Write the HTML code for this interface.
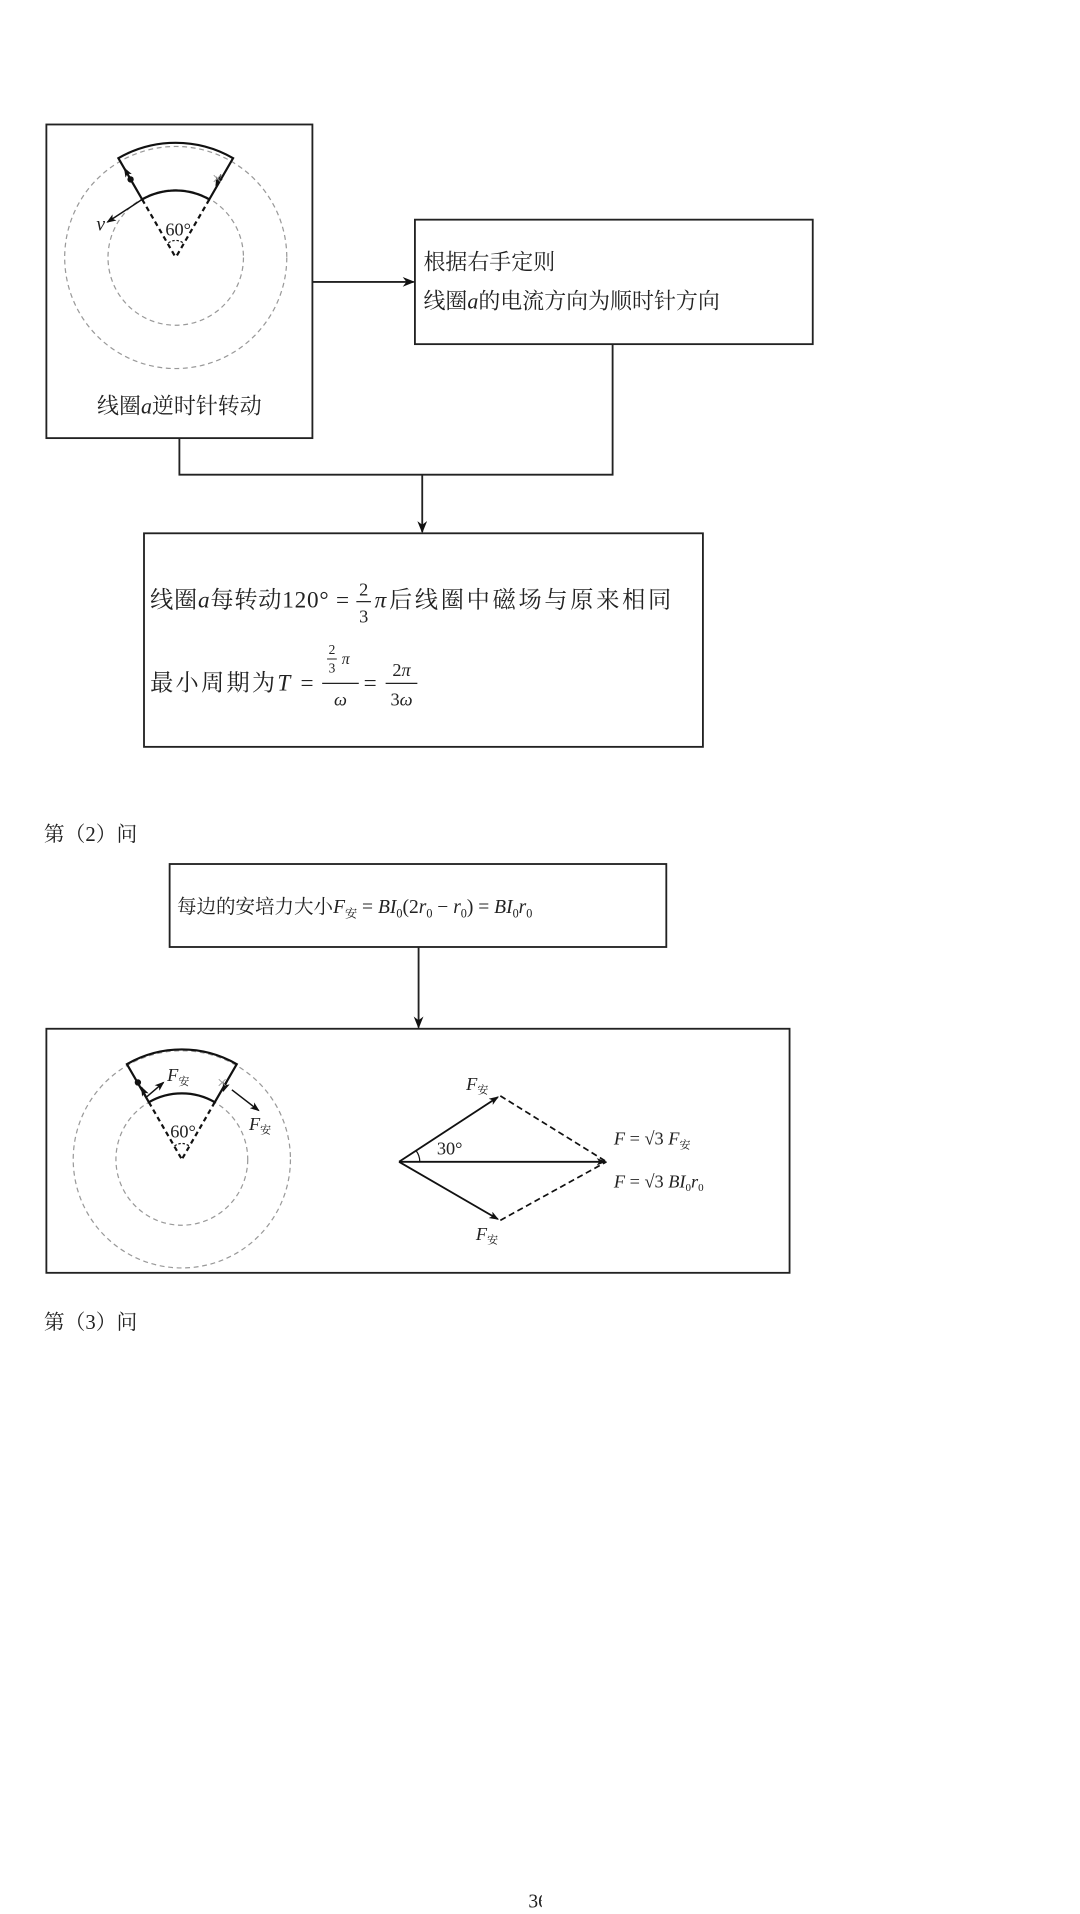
<!DOCTYPE html>
<html><head><meta charset="utf-8"><style>
html,body{margin:0;padding:0;background:#fff;}
svg{display:block}
.cn{font-family:"Liberation Serif","Noto Serif CJK SC",serif;fill:#222;}
.m{font-family:"Liberation Serif",serif;font-style:italic;fill:#222;}
.r{font-family:"Liberation Serif",serif;fill:#222;}
</style></head><body>
<svg width="1080" height="1914" viewBox="0 0 885 1568.4" xmlns="http://www.w3.org/2000/svg">
<defs>
<marker id="ah" markerWidth="10" markerHeight="8" refX="9" refY="4" orient="auto" markerUnits="userSpaceOnUse"><path d="M0,0 L10,4 L0,8 L3,4 Z" fill="#111"/></marker>
<marker id="sa" markerWidth="8" markerHeight="6" refX="7" refY="3" orient="auto" markerUnits="userSpaceOnUse"><path d="M0,0 L8,3 L0,6 L2,3 Z" fill="#111"/></marker>
<clipPath id="pc"><rect x="0" y="0" width="444" height="1568"/></clipPath>
</defs>
<g fill="none" stroke="#222" stroke-width="1.5">
<rect x="38" y="102" width="218" height="257"/>
<rect x="340" y="180" width="326" height="102"/>
<rect x="118" y="437" width="458" height="175"/>
<rect x="139" y="708" width="407" height="68"/>
<rect x="38" y="843" width="609" height="200"/>
<line x1="256" y1="231" x2="339" y2="231" marker-end="url(#ah)"/>
<polyline points="147,359 147,389 502,389 502,282"/>
<line x1="346" y1="389" x2="346" y2="436" marker-end="url(#ah)"/>
<line x1="343" y1="776" x2="343" y2="842" marker-end="url(#ah)"/>
</g>
<g fill="none" stroke="#999" stroke-width="1" stroke-dasharray="4,3">
<circle cx="144" cy="211" r="91"/>
<circle cx="144" cy="211" r="55.5"/>
</g>
<g fill="none" stroke="#111" stroke-width="1.8">
<path d="M97,129.6 A94,94 0 0 1 191,129.6 L171.5,163.4 A55.5,55.5 0 0 0 116.5,163.4 Z"/>
<line x1="116.5" y1="163.4" x2="144" y2="211" stroke-dasharray="4,3"/>
<line x1="171.5" y1="163.4" x2="144" y2="211" stroke-dasharray="4,3"/>
<line x1="110" y1="152" x2="102" y2="138" marker-end="url(#sa)" stroke-width="1.2"/>
<line x1="181" y1="143" x2="177" y2="152" marker-end="url(#sa)" stroke-width="1.2"/>
<line x1="116.5" y1="163.4" x2="88" y2="182" marker-end="url(#sa)" stroke-width="1.2"/>
<path d="M138,199 Q144,195 150,199" stroke-width="1" stroke-dasharray="2,1.5"/>
</g>
<circle cx="107" cy="147" r="2.6" fill="#111"/>
<text x="178" y="151" font-size="15" text-anchor="middle" font-family="Liberation Serif,serif" fill="#999">×</text>
<text x="79" y="189" class="m" font-size="16">v</text>
<text x="146" y="193" class="r" font-size="15" text-anchor="middle">60°</text>
<text x="147" y="339" class="cn" font-size="18" text-anchor="middle">线圈<tspan class="m">a</tspan>逆时针转动</text>
<text x="347" y="221" class="cn" font-size="18">根据右手定则</text>
<text x="347" y="253" class="cn" font-size="18">线圈<tspan class="m">a</tspan>的电流方向为顺时针方向</text>
<!-- box3 -->
<text x="123" y="498" class="cn" font-size="19" textLength="163">线圈<tspan class="m">a</tspan>每转动120° =</text>
<text x="298" y="488" class="r" font-size="15" text-anchor="middle">2</text>
<line x1="292" y1="493" x2="304" y2="493" stroke="#222" stroke-width="1"/>
<text x="298" y="510" class="r" font-size="15" text-anchor="middle">3</text>
<text x="307" y="498" class="cn" font-size="19" textLength="243"><tspan class="m">π</tspan>后线圈中磁场与原来相同</text>
<text x="123" y="566" class="cn" font-size="19" textLength="134">最小周期为<tspan class="m">T</tspan> =</text>
<text x="272" y="536" class="r" font-size="11" text-anchor="middle">2</text>
<line x1="268" y1="540" x2="276" y2="540" stroke="#222" stroke-width="0.8"/>
<text x="272" y="551" class="r" font-size="11" text-anchor="middle">3</text>
<text x="280" y="544" class="m" font-size="13">π</text>
<line x1="264" y1="560" x2="294" y2="560" stroke="#222" stroke-width="1"/>
<text x="279" y="578" class="m" font-size="15" text-anchor="middle">ω</text>
<text x="298" y="566" class="r" font-size="19">=</text>
<text x="329" y="554" class="r" font-size="15" text-anchor="middle">2<tspan class="m">π</tspan></text>
<line x1="316" y1="560" x2="342" y2="560" stroke="#222" stroke-width="1"/>
<text x="329" y="578" class="r" font-size="15" text-anchor="middle">3<tspan class="m">ω</tspan></text>
<text x="36" y="689" class="cn" font-size="17">第（2）问</text>
<text x="36" y="1089" class="cn" font-size="17">第（3）问</text>
<text x="145" y="748" class="cn" font-size="16">每边的安培力大小<tspan class="m">F</tspan><tspan font-size="10" dy="4">安</tspan><tspan dy="-4" class="r"> = </tspan><tspan class="m">BI</tspan><tspan class="r" font-size="10" dy="4">0</tspan><tspan class="r" dy="-4">(2</tspan><tspan class="m">r</tspan><tspan class="r" font-size="10" dy="4">0</tspan><tspan class="r" dy="-4"> − </tspan><tspan class="m">r</tspan><tspan class="r" font-size="10" dy="4">0</tspan><tspan class="r" dy="-4">) = </tspan><tspan class="m">BI</tspan><tspan class="r" font-size="10" dy="4">0</tspan><tspan class="m" dy="-4">r</tspan><tspan class="r" font-size="10" dy="4">0</tspan></text>
<g fill="none" stroke="#999" stroke-width="1" stroke-dasharray="4,3">
<circle cx="149" cy="950" r="89"/>
<circle cx="149" cy="950" r="54"/>
</g>
<g fill="none" stroke="#111" stroke-width="1.8">
<path d="M104,872 A90,90 0 0 1 194,872 L176,903.2 A54,54 0 0 0 122,903.2 Z"/>
<line x1="122" y1="903.2" x2="149" y2="950" stroke-dasharray="4,3"/>
<line x1="176" y1="903.2" x2="149" y2="950" stroke-dasharray="4,3"/>
<line x1="120" y1="899" x2="116" y2="891" marker-end="url(#sa)" stroke-width="1.2"/>
<line x1="120" y1="899" x2="134" y2="887" marker-end="url(#sa)" stroke-width="1.2"/>
<line x1="186" y1="886" x2="183" y2="894" marker-end="url(#sa)" stroke-width="1.2"/>
<line x1="190" y1="893" x2="212" y2="910" marker-end="url(#sa)" stroke-width="1.2"/>
<path d="M143,939 Q149,935 155,939" stroke-width="1" stroke-dasharray="2,1.5"/>
<line x1="327" y1="952" x2="408" y2="899" marker-end="url(#sa)" stroke-width="1.5"/>
<line x1="327" y1="952" x2="408" y2="999" marker-end="url(#sa)" stroke-width="1.5"/>
<line x1="327" y1="952" x2="496" y2="952" marker-end="url(#sa)" stroke-width="1.5"/>
<line x1="410" y1="898" x2="497" y2="952" stroke-dasharray="5,3" stroke-width="1.4"/>
<line x1="410" y1="1000" x2="497" y2="952" stroke-dasharray="5,3" stroke-width="1.4"/>
<path d="M341,943 Q344,947 344,952" stroke-width="1"/>
</g>
<circle cx="113" cy="887" r="2.6" fill="#111"/>
<text x="182" y="892" text-anchor="middle" font-size="15" font-family="Liberation Serif,serif" fill="#999">×</text>
<text x="137" y="886" class="m" font-size="15">F<tspan class="cn" font-style="normal" font-size="9" dy="3">安</tspan></text>
<text x="204" y="926" class="m" font-size="15">F<tspan class="cn" font-style="normal" font-size="9" dy="3">安</tspan></text>
<text x="150" y="932" class="r" font-size="15" text-anchor="middle">60°</text>
<text x="382" y="893" class="m" font-size="15">F<tspan class="cn" font-style="normal" font-size="9" dy="3">安</tspan></text>
<text x="390" y="1016" class="m" font-size="15">F<tspan class="cn" font-style="normal" font-size="9" dy="3">安</tspan></text>
<text x="358" y="946" class="r" font-size="15">30°</text>
<text x="503" y="938" class="m" font-size="15">F<tspan class="r" font-style="normal">  = √3 </tspan>F<tspan class="cn" font-style="normal" font-size="9" dy="3">安</tspan></text>
<text x="503" y="973" class="m" font-size="15">F<tspan class="r" font-style="normal"> = √3 </tspan>BI<tspan class="r" font-style="normal" font-size="9" dy="3">0</tspan><tspan dy="-3">r</tspan><tspan class="r" font-style="normal" font-size="9" dy="3">0</tspan></text>
<text x="433" y="1563" class="r" font-size="16" clip-path="url(#pc)">36</text>
</svg>
</body></html>
